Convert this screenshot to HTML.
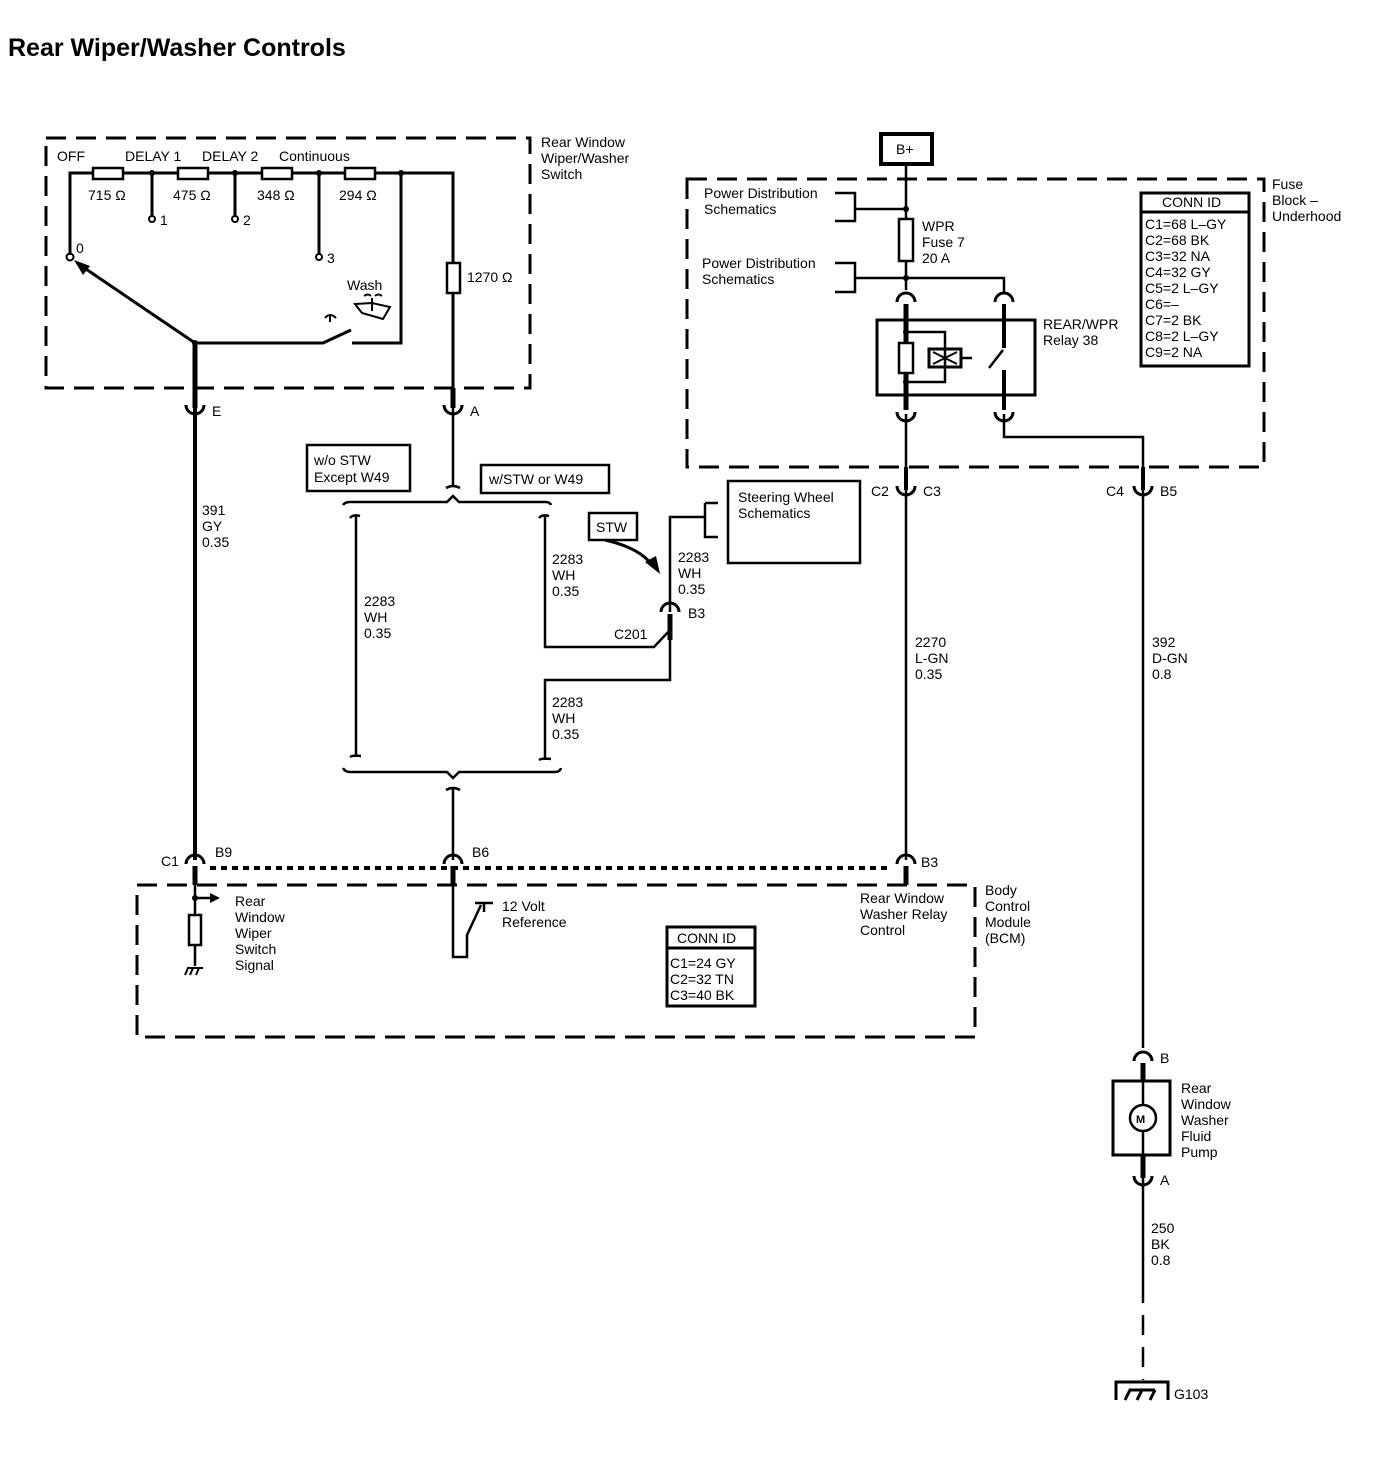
<!DOCTYPE html>
<html><head><meta charset="utf-8"><style>
body{margin:0;background:#fff}
svg{display:block}
text{font-family:"Liberation Sans",Arial,sans-serif;font-size:14px;fill:#000}
.b{font-weight:bold}
</style></head><body>
<svg width="1388" height="1472" viewBox="0 0 1388 1472" xmlns="http://www.w3.org/2000/svg">
<g fill="none" stroke="#000" stroke-width="3">
<rect x="46" y="138" width="484" height="250" stroke-dasharray="20,10"/>
<rect x="687" y="179" width="577" height="288" stroke-dasharray="20,10"/>
<rect x="137" y="885" width="838" height="152" stroke-dasharray="20,10"/>
<path d="M70 255 V173 H93 M123 173 H178 M208 173 H262 M292 173 H345 M375 173 H453 V263 M453 293 V405"/>
<rect x="93" y="168" width="30" height="11" stroke-width="2.5"/>
<rect x="178" y="168" width="30" height="11" stroke-width="2.5"/>
<rect x="262" y="168" width="30" height="11" stroke-width="2.5"/>
<rect x="345" y="168" width="30" height="11" stroke-width="2.5"/>
<rect x="447" y="263" width="13" height="30" stroke-width="2.5"/>
<path d="M152 173 V216 M235 173 V216 M319 173 V255"/>
<circle cx="152" cy="219" r="3" stroke-width="2"/>
<circle cx="235" cy="219" r="3" stroke-width="2"/>
<circle cx="319" cy="257" r="3" stroke-width="2"/>
<circle cx="70" cy="257" r="3.5" stroke-width="2"/>
<path d="M195 343 L80 265"/>
<path d="M195 343 H323 L351 330 M352 343 H401 V173"/>
<path d="M330 322 V315 M325 318 Q330 312 336 318" stroke-width="2"/>
<path d="M355 304 L362 313 L383 319 L390 307 L372 303 Z M372 298 V311 M364 296 Q368 293 371 296 M375 296 Q378 293 382 296" stroke-width="2"/>
<path d="M195 343 V408" stroke-width="5"/>
<path d="M195 408 V860" stroke-width="4"/>
<path d="M186 405 A9 9 0 0 0 204 405"/>
<path d="M453 388 V408" stroke-width="5"/>
<path d="M444 405 A9 9 0 0 0 462 405"/>
<path d="M453 408 V486 M446 488 Q453 484 460 488" stroke-width="2.5"/>
<path d="M343 505 Q345 502 350 502 H447 L453 496 L459 502 H545 Q550 502 551 505" stroke-width="2.5"/>
<path d="M350 518 Q353 514 360 516 M356 516 V757 M350 757 Q353 755 361 756" stroke-width="2.5"/>
<path d="M539 518 Q542 514 549 516 M545 516 V647 H654 L670 630 V618" stroke-width="2.5"/>
<path d="M670 616 V680 H545 V760 M539 760 Q542 758 551 759" stroke-width="2.5"/>
<path d="M661 612 A9 9 0 0 1 679 612"/>
<path d="M670 614 V640" stroke-width="5"/>
<path d="M670 612 V517 H705 M705 503 V537 H718 M705 503 H718" stroke-width="2.5"/>
<path d="M343 768 Q345 772 350 772 H447 L453 778 L459 772 H555 Q560 772 561 768" stroke-width="2.5"/>
<path d="M446 790 Q453 786 460 790 M453 788 V860" stroke-width="2.5"/>
<rect x="307" y="445" width="103" height="46" stroke-width="2.5"/>
<rect x="481" y="465" width="128" height="28" stroke-width="2.5"/>
<rect x="589" y="513" width="48" height="27" stroke-width="2.5"/>
<path d="M605 540 Q640 548 652 565" stroke-width="3"/>
<rect x="728" y="481" width="132" height="82" stroke-width="2.5"/>
<rect x="881" y="134" width="51" height="30" stroke-width="4"/>
<path d="M906 164 V219 M906 261 V290 M906 278 H1004 V292" stroke-width="2.5"/>
<path d="M835 193 H855 V221 H835 M855 209 H906 M835 263 H855 V292 H835 M855 278 H906" stroke-width="2.5"/>
<rect x="899" y="219" width="14" height="42" stroke-width="2.5"/>
<path d="M897 302 A9 9 0 0 1 915 302 M995 302 A9 9 0 0 1 1013 302"/>
<path d="M906 304 V343 M906 373 V410" stroke-width="5"/>
<path d="M1004 304 V348 M1004 370 V410" stroke-width="4"/>
<rect x="877" y="320" width="158" height="75"/>
<rect x="899" y="343" width="14" height="30" stroke-width="2.5"/>
<path d="M906 332 H945 V382 H906 M961 358 H972 M989 368 L1003 350" stroke-width="2.5"/>
<rect x="929" y="349" width="32" height="18" stroke-width="3"/>
<path d="M933 352 L957 364 M957 352 L933 364" stroke-width="2"/>
<path d="M897 412 A9 9 0 0 0 915 412 M995 412 A9 9 0 0 0 1013 412"/>
<path d="M906 414 V860 M1004 414 V437 H1143 V1048" stroke-width="2.5"/>
<path d="M1143 467 V490" stroke-width="4"/>
<path d="M906 467 V490" stroke-width="4"/>
<path d="M897 486 A9 9 0 0 0 915 486 M1134 486 A9 9 0 0 0 1152 486"/>
<rect x="1141" y="193" width="108" height="173" stroke-width="3"/>
<path d="M1141 212 H1249" stroke-width="3"/>
<path d="M186 864 A9 9 0 0 1 204 864 M444 864 A9 9 0 0 1 462 864 M897 864 A9 9 0 0 1 915 864"/>
<path d="M195 866 V885 M453 866 V885 M906 866 V885" stroke-width="5"/>
<path d="M210 868 H890" stroke-dasharray="6,5" stroke-width="4"/>
<path d="M195 885 V915 M195 945 V966 M195 898 H210" stroke-width="2.5"/>
<rect x="189" y="915" width="12" height="30" stroke-width="2.5"/>
<path d="M185 975 L188 968 H203 M190 975 L193 968 M196 975 L199 968" stroke-width="2"/>
<path d="M453 885 V957 H467 V935 L481 905 M475 903 H493 M484 903 V912" stroke-width="2.5"/>
<rect x="667" y="927" width="88" height="79" stroke-width="3"/>
<path d="M667 948 H755" stroke-width="3"/>
<path d="M1134 1061 A9 9 0 0 1 1152 1061 M1134 1176 A9 9 0 0 0 1152 1176"/>
<path d="M1143 1063 V1080 M1143 1155 V1178" stroke-width="5"/>
<rect x="1113" y="1081" width="57" height="74" stroke-width="3"/>
<path d="M1143 1081 V1105 M1143 1131 V1155" stroke-width="2.5"/>
<circle cx="1143" cy="1118" r="13" stroke-width="2.5"/>
<path d="M1143 1178 V1283" stroke-width="2.5"/>
<path d="M1143 1283 V1380" stroke-width="2.5" stroke-dasharray="20,12"/>
<path d="M1116 1400 V1382 H1168 V1400 M1125 1400 L1130 1390 H1155 M1137 1400 L1142 1390 M1150 1400 L1155 1390" stroke-width="3"/>
</g>
<g fill="#000">
<circle cx="152" cy="173" r="3"/><circle cx="235" cy="173" r="3"/><circle cx="319" cy="173" r="3"/><circle cx="401" cy="173" r="3"/>
<circle cx="195" cy="343" r="3"/>
<path d="M74 260 L90 266 L83 275 Z"/>
<path d="M645 562 L660 574 L656 556 Z"/>
<circle cx="906" cy="209" r="3"/><circle cx="906" cy="278" r="3"/><circle cx="906" cy="332" r="3"/><circle cx="906" cy="382" r="3"/>
<circle cx="195" cy="898" r="3"/>
<path d="M210 893 L220 898 L210 903 Z"/>
</g>
<text x="8" y="56" class="b" style="font-size:25px">Rear Wiper/Washer Controls</text>
<text x="57" y="161">OFF</text><text x="125" y="161">DELAY 1</text><text x="202" y="161">DELAY 2</text><text x="279" y="161">Continuous</text>
<text x="88" y="200">715 Ω</text><text x="173" y="200">475 Ω</text><text x="257" y="200">348 Ω</text><text x="339" y="200">294 Ω</text>
<text x="160" y="225">1</text><text x="243" y="225">2</text><text x="327" y="263">3</text><text x="76" y="253">0</text>
<text x="467" y="282">1270 Ω</text><text x="347" y="290">Wash</text>
<text x="541" y="147">Rear Window</text><text x="541" y="163">Wiper/Washer</text><text x="541" y="179">Switch</text>
<text x="212" y="416">E</text><text x="470" y="416">A</text>
<text x="202" y="515">391</text><text x="202" y="531">GY</text><text x="202" y="547">0.35</text>
<text x="314" y="465">w/o STW</text><text x="314" y="482">Except W49</text>
<text x="489" y="484">w/STW or W49</text>
<text x="596" y="532">STW</text>
<text x="738" y="502">Steering Wheel</text><text x="738" y="518">Schematics</text>
<text x="364" y="606">2283</text><text x="364" y="622">WH</text><text x="364" y="638">0.35</text>
<text x="552" y="564">2283</text><text x="552" y="580">WH</text><text x="552" y="596">0.35</text>
<text x="678" y="562">2283</text><text x="678" y="578">WH</text><text x="678" y="594">0.35</text>
<text x="688" y="618">B3</text><text x="614" y="639">C201</text>
<text x="552" y="707">2283</text><text x="552" y="723">WH</text><text x="552" y="739">0.35</text>
<text x="896" y="154">B+</text>
<text x="704" y="198">Power Distribution</text><text x="704" y="214">Schematics</text>
<text x="702" y="268">Power Distribution</text><text x="702" y="284">Schematics</text>
<text x="922" y="231">WPR</text><text x="922" y="247">Fuse 7</text><text x="922" y="263">20 A</text>
<text x="1043" y="329">REAR/WPR</text><text x="1043" y="345">Relay 38</text>
<text x="1162" y="207">CONN ID</text>
<text x="1145" y="229">C1=68 L–GY</text><text x="1145" y="245">C2=68 BK</text><text x="1145" y="261">C3=32 NA</text><text x="1145" y="277">C4=32 GY</text><text x="1145" y="293">C5=2 L–GY</text><text x="1145" y="309">C6=–</text><text x="1145" y="325">C7=2 BK</text><text x="1145" y="341">C8=2 L–GY</text><text x="1145" y="357">C9=2 NA</text>
<text x="1272" y="189">Fuse</text><text x="1272" y="205">Block –</text><text x="1272" y="221">Underhood</text>
<text x="871" y="496">C2</text><text x="923" y="496">C3</text><text x="1106" y="496">C4</text><text x="1160" y="496">B5</text>
<text x="915" y="647">2270</text><text x="915" y="663">L-GN</text><text x="915" y="679">0.35</text>
<text x="1152" y="647">392</text><text x="1152" y="663">D-GN</text><text x="1152" y="679">0.8</text>
<text x="161" y="866">C1</text><text x="215" y="857">B9</text><text x="472" y="857">B6</text><text x="921" y="867">B3</text>
<text x="235" y="906">Rear</text><text x="235" y="922">Window</text><text x="235" y="938">Wiper</text><text x="235" y="954">Switch</text><text x="235" y="970">Signal</text>
<text x="502" y="911">12 Volt</text><text x="502" y="927">Reference</text>
<text x="677" y="943">CONN ID</text>
<text x="670" y="968">C1=24 GY</text><text x="670" y="984">C2=32 TN</text><text x="670" y="1000">C3=40 BK</text>
<text x="860" y="903">Rear Window</text><text x="860" y="919">Washer Relay</text><text x="860" y="935">Control</text>
<text x="985" y="895">Body</text><text x="985" y="911">Control</text><text x="985" y="927">Module</text><text x="985" y="943">(BCM)</text>
<text x="1160" y="1063">B</text>
<text x="1136" y="1123" style="font-size:11px" class="b">M</text>
<text x="1181" y="1093">Rear</text><text x="1181" y="1109">Window</text><text x="1181" y="1125">Washer</text><text x="1181" y="1141">Fluid</text><text x="1181" y="1157">Pump</text>
<text x="1160" y="1185">A</text>
<text x="1151" y="1233">250</text><text x="1151" y="1249">BK</text><text x="1151" y="1265">0.8</text>
<text x="1174" y="1399">G103</text>
</svg>
</body></html>
